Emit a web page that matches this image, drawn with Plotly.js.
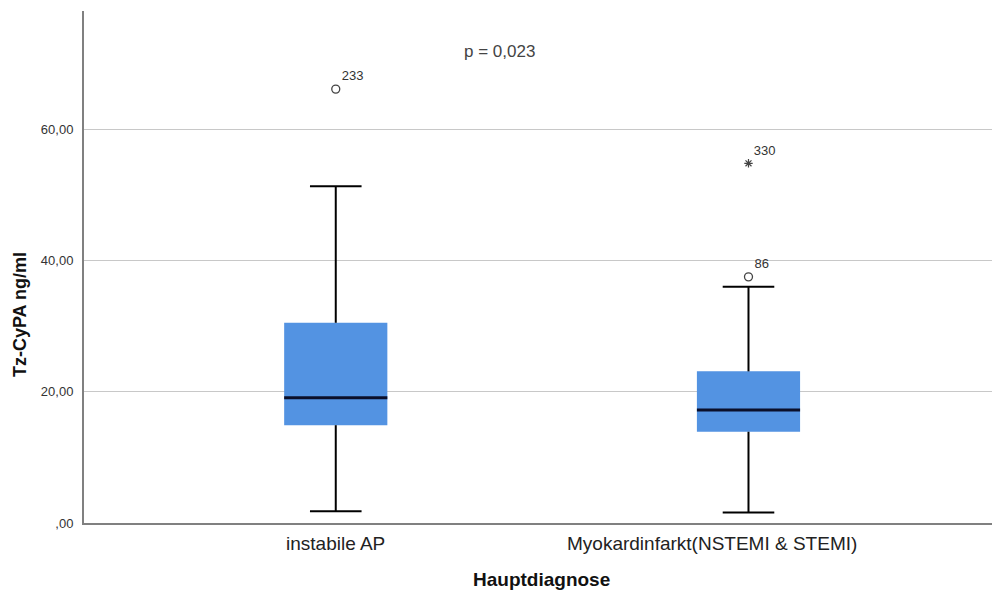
<!DOCTYPE html>
<html>
<head>
<meta charset="utf-8">
<script src="https://cdn.plot.ly/plotly-3.0.1.min.js"></script>
<style>html,body{margin:0;padding:0;background:#fff;}#chart{width:992px;height:591px;}</style>
</head>
<body>
<div id="chart"></div>
<script>
// ---- data ----
const categories = ["instabile AP", "Myokardinfarkt(NSTEMI & STEMI)"];
const positions = [0, 1];
const lowerWhisker = [1.8, 1.6];
const q1 = [14.9, 13.9];
const median = [19.1, 17.2];
const q3 = [30.5, 23.1];
const upperWhisker = [51.3, 36.0];
const outlierPos = [0, 1];
const outlierVals = [66.1, 37.5];
const outlierLabels = ["233", "86"];
const extremePos = [1];
const extremeVals = [54.8];
const extremeLabels = ["330"];
const yTickVals = [0, 20, 40, 60];
const yTickText = [",00", "20,00", "40,00", "60,00"];
const pText = "p = 0,023";

const boxW = 0.25, capW = 0.125;
const FONT = "Liberation Sans, Arial, sans-serif";
const labelShift = [0, -36];

const traces = [];
// boxes (fill only)
traces.push({
  type: "box",
  x: positions,
  q1: q1, median: median, q3: q3,
  lowerfence: q1, upperfence: q3,
  width: boxW,
  fillcolor: "#5393E2",
  line: {color: "#5393E2", width: 0},
  boxpoints: false,
  hoverinfo: "skip",
  showlegend: false
});
// whiskers + caps
const wx = [], wy = [];
positions.forEach((p, i) => {
  wx.push(p, p, null, p, p, null,
          p - capW / 2, p + capW / 2, null, p - capW / 2, p + capW / 2, null);
  wy.push(q3[i], upperWhisker[i], null, q1[i], lowerWhisker[i], null,
          upperWhisker[i], upperWhisker[i], null, lowerWhisker[i], lowerWhisker[i], null);
});
traces.push({type: "scatter", mode: "lines", x: wx, y: wy,
  line: {color: "#000", width: 2}, hoverinfo: "skip", showlegend: false});
// medians
const mx = [], my = [];
positions.forEach((p, i) => {
  mx.push(p - boxW / 2, p + boxW / 2, null);
  my.push(median[i], median[i], null);
});
traces.push({type: "scatter", mode: "lines", x: mx, y: my,
  line: {color: "#0a0f2a", width: 3}, hoverinfo: "skip", showlegend: false});
// outliers
traces.push({type: "scatter", mode: "markers+text", x: outlierPos, y: outlierVals,
  text: outlierLabels, textposition: "top right",
  textfont: {family: FONT, size: 13, color: "#333"},
  marker: {symbol: "circle-open", size: 8, color: "#444", line: {width: 1.3}},
  hoverinfo: "skip", showlegend: false, cliponaxis: false});
traces.push({type: "scatter", mode: "markers+text", x: extremePos, y: extremeVals,
  text: extremeLabels, textposition: "top right",
  textfont: {family: FONT, size: 13, color: "#333"},
  marker: {symbol: "asterisk-open", size: 7, color: "#444", line: {width: 1.2, color: "#444"}},
  hoverinfo: "skip", showlegend: false, cliponaxis: false});

const annotations = [
  {text: "<b>Tz-CyPA ng/ml</b>", xref: "paper", yref: "paper",
   x: -0.0705, y: 0.408, xanchor: "center", yanchor: "middle", textangle: -90, showarrow: false,
   font: {family: FONT, size: 18, color: "#111"}},
  {text: "<b>Hauptdiagnose</b>", xref: "paper", yref: "paper",
   x: 0.504, y: -0.111, xanchor: "center", yanchor: "middle", showarrow: false,
   font: {family: FONT, size: 19, color: "#111"}},
  {text: pText, xref: "paper", yref: "paper",
   x: 0.458, y: 0.92, xanchor: "center", yanchor: "middle", showarrow: false,
   font: {family: FONT, size: 17, color: "#444"}}
];
categories.forEach((c, i) => {
  annotations.push({text: c, xref: "x", yref: "paper", x: positions[i], y: -0.041,
    xanchor: "center", yanchor: "middle", xshift: labelShift[i], showarrow: false,
    font: {family: FONT, size: 19, color: "#222"}});
});

const layout = {
  width: 992, height: 591,
  margin: {l: 84, r: 0, t: 11, b: 68},
  paper_bgcolor: "#fff", plot_bgcolor: "#fff",
  font: {family: FONT, color: "#333"},
  xaxis: {
    range: [-0.61, 1.59],
    tickvals: positions, ticktext: categories, showticklabels: false,
    showgrid: false, zeroline: false,
    showline: true, linecolor: "#808080", linewidth: 2,
    ticks: "",
    fixedrange: true
  },
  yaxis: {
    range: [0, 78],
    tickvals: yTickVals, ticktext: yTickText,
    tickfont: {family: FONT, size: 13, color: "#333"},
    showgrid: true, gridcolor: "#c8c8c8", gridwidth: 1,
    zeroline: false,
    showline: true, linecolor: "#808080", linewidth: 2,
    ticks: "", ticklabelstandoff: 6,
    fixedrange: true
  },
  annotations: annotations
};

Plotly.newPlot("chart", traces, layout, {staticPlot: true, displayModeBar: false});
</script>
</body>
</html>
